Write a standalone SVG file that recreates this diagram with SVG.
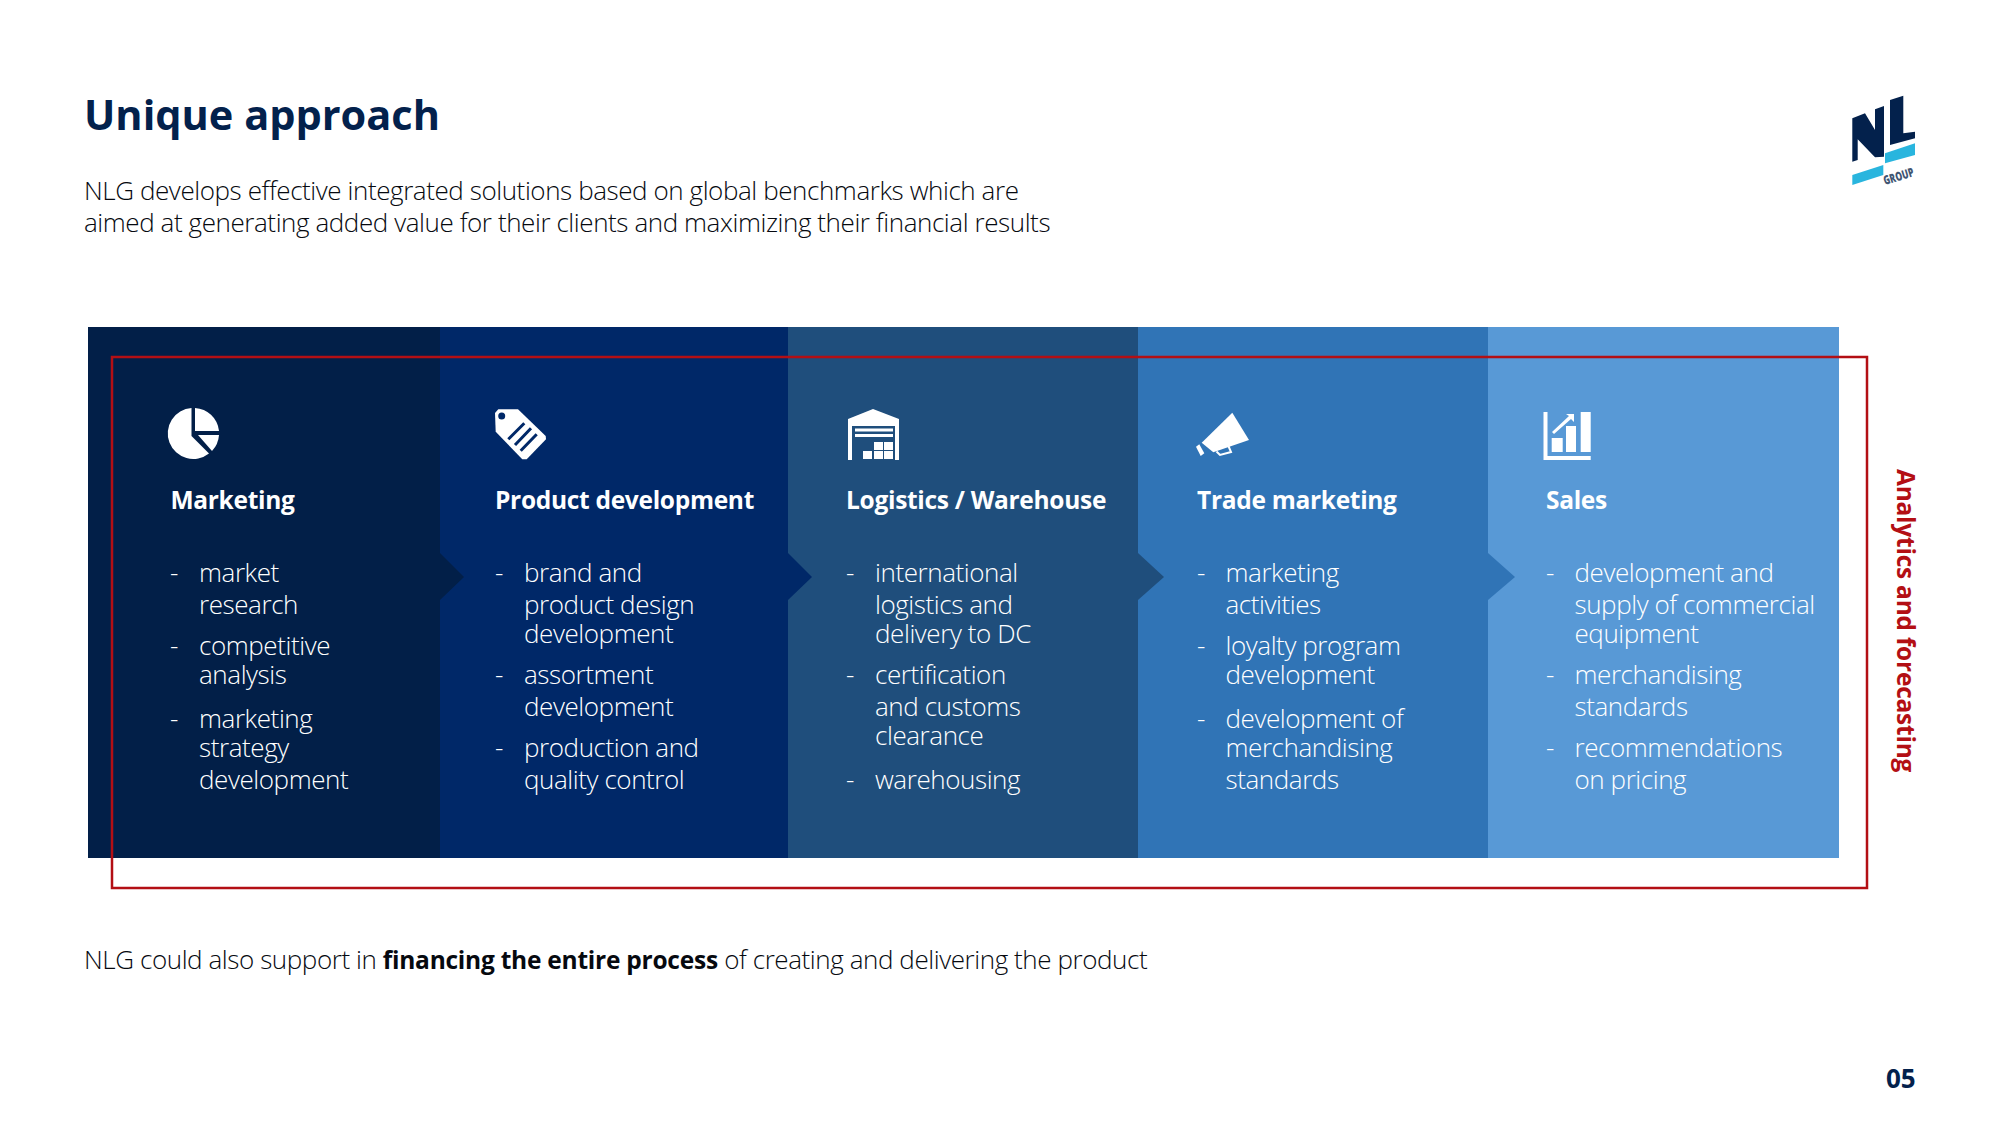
<svg xmlns="http://www.w3.org/2000/svg" width="2000" height="1125" viewBox="0 0 2000 1125">
<style>
text{font-family:"Open Sans","Noto Sans",sans-serif}
.title{font-size:41.500px;font-weight:700;fill:#03214c}
.sub{font-size:26px;font-weight:300;fill:#06090f;letter-spacing:-.42px}
.sub tspan{font-size:24.500px;font-weight:700;letter-spacing:-.24px}
.h{font-size:24.500px;font-weight:700;fill:#fff;letter-spacing:-.3px}
.b{font-size:26px;font-weight:300;fill:#fff;letter-spacing:-.42px}
.ic{fill:#fff}
</style>
<rect width="2000" height="1125" fill="#fff"/>
<text class="title" x="84" y="130">Unique approach</text>
<text class="sub" x="84" y="200">NLG develops effective integrated solutions based on global benchmarks which are</text>
<text class="sub" x="84" y="232">aimed at generating added value for their clients and maximizing their financial results</text>
<g id="logo">
<path d="M1852.300 118.300L1865 113.300L1875 130V109.300L1884 106V156.700L1875 157.300L1857.700 139.300V160L1852.300 161.700Z" fill="#03214c"/>
<path d="M1890 100L1903.300 95.700V133.300L1915 131.700V138.300L1890 145Z" fill="#03214c"/>
<path d="M1885 153.300L1915 143.300V155L1885 163.300Z" fill="#29b5de"/>
<path d="M1852.300 175L1883.300 165V175L1852.300 185Z" fill="#29b5de"/>
<text transform="translate(1885 185) rotate(-17)" font-size="12.500" font-weight="800" fill="#3f5572" textLength="31" lengthAdjust="spacingAndGlyphs">GROUP</text>
</g>
<g id="marketing"><rect x="88" y="327" width="352" height="531" fill="#021f48"/></g>
<g id="product"><rect x="440" y="327" width="348" height="531" fill="#002868"/></g>
<g id="logistics"><rect x="788" y="327" width="350" height="531" fill="#1f4e7c"/></g>
<g id="trade"><rect x="1138" y="327" width="350" height="531" fill="#3074b6"/></g>
<g id="sales"><rect x="1488" y="327" width="351" height="531" fill="#5899d6"/></g>
<g id="connectors">
<path d="M440 553L464 577L440 600Z" fill="#021f48"/>
<path d="M788 553L812 577L788 600Z" fill="#002868"/>
<path d="M1138 553L1164 577L1138 600Z" fill="#1f4e7c"/>
<path d="M1488 553L1515 577L1488 600Z" fill="#3074b6"/>
</g>
<rect id="frame" x="112" y="357" width="1755" height="531" fill="none" stroke="#b30f14" stroke-width="2.500"/>
<g id="ic1" class="ic">
<path d="M191.500 408V436L209 453.500A25.500 25.500 0 1 1 191.500 408Z"/><path d="M195 408A25.500 25.500 0 0 1 219 431H195Z"/><path d="M198 435H219A25.500 25.500 0 0 1 212 451Z"/>
</g>
<g id="ic2">
<path class="ic" d="M495 413L498.300 409.300H518L545.700 436L546 439.300L526.700 459.300H522.300L495.700 431.700Z"/>
<circle cx="501.700" cy="416" r="3.500" fill="#002868"/>
<path d="M508.300 439.300L524.300 423.300M515 445L531 428.300M520.700 450.700L536.700 434.300" stroke="#002868" stroke-width="3" fill="none"/>
</g>
<g id="ic3" class="ic">
<path d="M848 419L873 409L899 419V460H895V426H852V460H848Z"/><rect x="855" y="428.500" width="38" height="3"/><rect x="855" y="434" width="38" height="3"/>
<rect x="874" y="442" width="9" height="8"/><rect x="884" y="442" width="9" height="8"/><rect x="863" y="451" width="9" height="8"/><rect x="874" y="451" width="9" height="8"/><rect x="884" y="451" width="9" height="8"/>
</g>
<g id="ic4" class="ic">
<path d="M1232.300 412.700L1249 440L1213.300 452.300L1201.700 442.700Z"/>
<path d="M1216.500 451.500L1220 455L1231 452L1228 445" fill="none" stroke="#fff" stroke-width="2"/>
<path d="M1196 446.700L1199.300 444.300L1204.300 453.300L1200.700 456Z"/>
</g>
<g id="ic5" class="ic">
<path d="M1543.500 412H1547.500V456H1590.700V460H1543.500Z"/><rect x="1551.700" y="438" width="11" height="14"/><rect x="1566" y="426" width="10" height="26"/><rect x="1580.700" y="412" width="10" height="40"/>
<path d="M1552 432L1569 416L1566 414H1574V422L1571 419L1554 434Z"/>
</g>
<text class="h" x="170.500" y="509">Marketing</text>
<text class="h" x="495" y="509">Product development</text>
<text class="h" x="846" y="509">Logistics / Warehouse</text>
<text class="h" x="1197" y="509">Trade marketing</text>
<text class="h" x="1546" y="509">Sales</text>
<g class="b">
<text class="b" x="170" y="582">-</text><text class="b" x="199" y="582">market</text><text class="b" x="199" y="614">research</text>
<text class="b" x="170" y="655">-</text><text class="b" x="199" y="655">competitive</text><text class="b" x="199" y="684">analysis</text>
<text class="b" x="170" y="728">-</text><text class="b" x="199" y="728">marketing</text><text class="b" x="199" y="757">strategy</text><text class="b" x="199" y="789">development</text>

<text class="b" x="495" y="582">-</text><text class="b" x="524" y="582">brand and</text><text class="b" x="524" y="614">product design</text><text class="b" x="524" y="643">development</text>
<text class="b" x="495" y="684">-</text><text class="b" x="524" y="684">assortment</text><text class="b" x="524" y="716">development</text>
<text class="b" x="495" y="757">-</text><text class="b" x="524" y="757">production and</text><text class="b" x="524" y="789">quality control</text>

<text class="b" x="846" y="582">-</text><text class="b" x="875" y="582">international</text><text class="b" x="875" y="614">logistics and</text><text class="b" x="875" y="643">delivery to DC</text>
<text class="b" x="846" y="684">-</text><text class="b" x="875" y="684">certification</text><text class="b" x="875" y="716">and customs</text><text class="b" x="875" y="745">clearance</text>
<text class="b" x="846" y="789">-</text><text class="b" x="875" y="789">warehousing</text>

<text class="b" x="1197" y="582">-</text><text class="b" x="1225.500" y="582">marketing</text><text class="b" x="1225.500" y="614">activities</text>
<text class="b" x="1197" y="655">-</text><text class="b" x="1225.500" y="655">loyalty program</text><text class="b" x="1225.500" y="684">development</text>
<text class="b" x="1197" y="728">-</text><text class="b" x="1225.500" y="728">development of</text><text class="b" x="1225.500" y="757">merchandising</text><text class="b" x="1225.500" y="789">standards</text>

<text class="b" x="1546" y="582">-</text><text class="b" x="1574.500" y="582">development and</text><text class="b" x="1574.500" y="614">supply of commercial</text><text class="b" x="1574.500" y="643">equipment</text>
<text class="b" x="1546" y="684">-</text><text class="b" x="1574.500" y="684">merchandising</text><text class="b" x="1574.500" y="716">standards</text>
<text class="b" x="1546" y="757">-</text><text class="b" x="1574.500" y="757">recommendations</text><text class="b" x="1574.500" y="789">on pricing</text>
</g>
<text transform="translate(1897 469) rotate(90)" font-size="24.500" font-weight="700" fill="#b30f14" letter-spacing="-.24">Analytics and forecasting</text>
<text class="sub" x="84" y="969">NLG could also support in <tspan>financing the entire process</tspan> of creating and delivering the product</text>
<text x="1886" y="1088" font-size="26" font-weight="700" fill="#03214c">05</text>
</svg>
